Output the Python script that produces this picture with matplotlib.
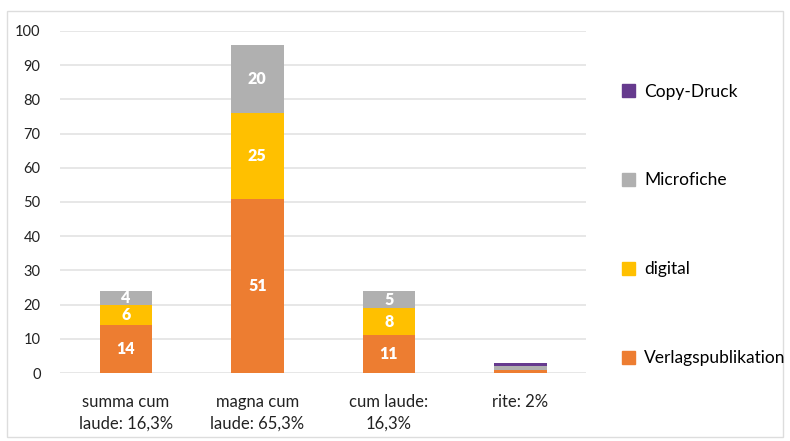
import matplotlib
matplotlib.use("Agg")
import numpy as np
import matplotlib.pyplot as plt
from matplotlib.patches import Rectangle, Patch

plt.rcParams.update({"font.family": ["Lato", "DejaVu Sans"], "font.size": 10})

categories = ["summa cum\nlaude: 16,3%", "magna cum\nlaude: 65,3%", "cum laude:\n16,3%", "rite: 2%"]
verlag = [14, 51, 11, 1]
digital = [6, 25, 8, 0]
microfiche = [4, 20, 5, 1]
copydruck = [0, 0, 0, 1]

series = [("Verlagspublikation", verlag, "#ED7D31"),
          ("digital", digital, "#FFC000"),
          ("Microfiche", microfiche, "#B0B0B0"),
          ("Copy-Druck", copydruck, "#663A8E")]

fig = plt.figure(figsize=(7.9, 4.41), dpi=100)
ax = fig.add_axes([0.076, 0.154, 0.666, 0.776])

x = np.arange(len(categories))
bottom = np.zeros(len(categories))
for name, vals, col in series:
    vals = np.array(vals, dtype=float)
    ax.bar(x, vals, bottom=bottom, width=0.4, color=col, zorder=2)
    for xi, b, v in zip(x, bottom, vals):
        if v >= 2:
            ax.text(xi, b + v / 2, f"{int(v)}", ha="center", va="center",
                    color="white", fontweight="heavy", fontsize=11.5)
    bottom += vals

ax.set_ylim(0, 100)
ax.set_xlim(-0.5, 3.5)
ax.set_yticks(range(0, 101, 10))
ax.yaxis.grid(True, color="#E3E3E3", lw=1.2, zorder=0)
ax.tick_params(axis="both", length=0, colors="#222222")
ax.tick_params(axis="y", pad=14, labelsize=10.5)
ax.set_xticks(x)
ax.set_xticklabels(categories, fontsize=12, linespacing=1.45)
ax.tick_params(axis="x", pad=15)
for sp in ax.spines.values():
    sp.set_visible(False)

handles = [Patch(color=col, label=name) for name, _, col in reversed(series)]
fig.legend(handles=handles, loc="upper left", bbox_to_anchor=(0.768, 0.846),
           frameon=False, fontsize=12.5, labelspacing=4.2, handlelength=0.75,
           handleheight=0.75, handletextpad=0.5)

fig.patches.append(Rectangle((0.009, 0.01), 0.982, 0.965, transform=fig.transFigure,
                             fill=False, edgecolor="#DDDDDD", lw=1.0))

fig.savefig("out.png", dpi=100, facecolor="white")
